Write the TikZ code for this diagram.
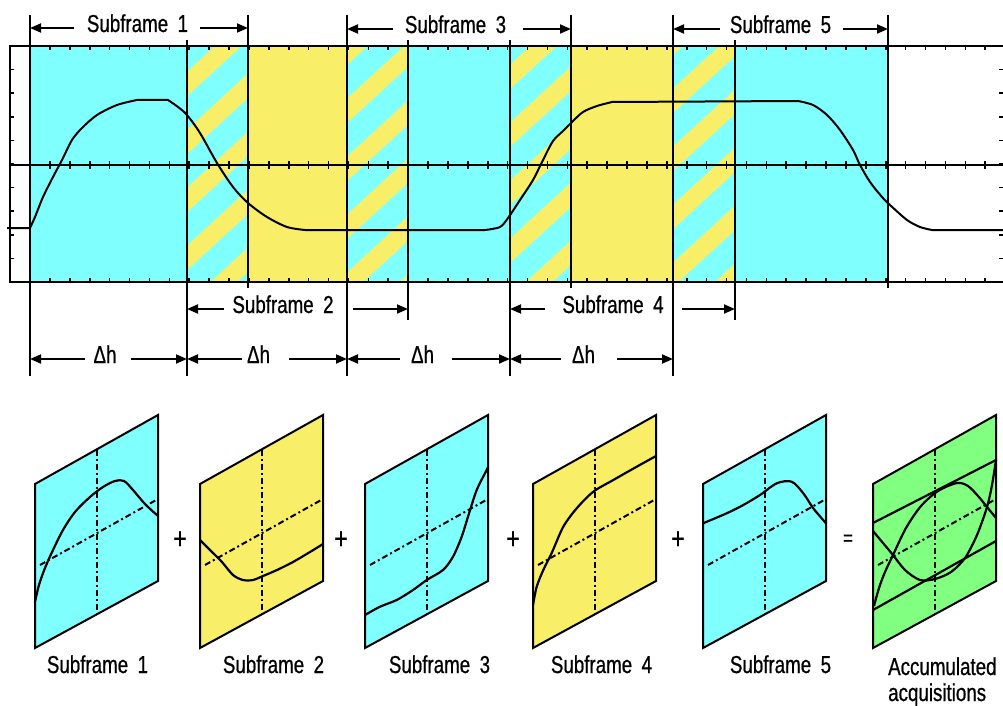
\documentclass[tikz,border=0pt]{standalone}
\usepackage{fontspec}
\setmainfont{Liberation Sans}[FakeStretch=0.765,FakeBold=0.7]
\usetikzlibrary{arrows.meta}
\definecolor{scyan}{RGB}{128,255,255}
\definecolor{syellow}{RGB}{248,238,104}
\definecolor{sgreen}{RGB}{128,255,128}

\newcommand\mydim[8]{%
  \coordinate (#1L) at (#3,#2);
  \coordinate (#1l) at (#4,#2);
  \coordinate (#1r) at (#7,#2);
  \coordinate (#1R) at (#8,#2);
  \node[lbl] (#1t) at (#6,{#2+4}) {#5};
  \draw[dimarrow] (#1l) -- (#1L);
  \draw[dimarrow] (#1r) -- (#1R);
}
\newcommand\hatchbox[2]{%
  \begin{scope}
    \clip (#1,46) rectangle (#2,282);
    \fill[scyan] (#1,46) rectangle (#2,282);
    \foreach \k in {-2,...,14}{
      \draw[hatch] ({#1-20},{256+58*\k-0.92*(#1-20)}) -- ({#2+20},{256+58*\k-0.92*(#2+20)});
    }
  \end{scope}
}
\newcommand\panelshape[2]{%
  \begin{scope}[shift={(#1,0)}]
    \draw[panel, fill=#2] (0,484) -- (123,415) -- (123,581) -- (0,648) -- cycle;
    \draw[dd] (61.5,449.5) -- (61.5,614.5);
    \draw[dd] (5,565) -- (123,499);
  \end{scope}
}
\newcommand\curveA{\draw[pcurve] plot[smooth,tension=0.55] coordinates {(0,602) (4,585) (10,568) (18,550) (28,530) (40,512) (55,497) (68,487) (80,481) (89,481) (98,490) (110,504) (123,516)};}
\newcommand\curveB{\draw[pcurve] plot[smooth,tension=0.5] coordinates {(0,540) (10,550) (21.7,561.7) (33,575) (43,580) (53,580) (63,576) (77,570) (93,562) (110,552) (123,544)};}
\newcommand\curveC{\draw[pcurve] plot[smooth,tension=0.5] coordinates {(0,615) (15,606.7) (31.7,600) (48,590) (61.7,580) (78,570) (88,556.7) (96.7,536.7) (103,516.7) (111.7,490) (121.7,470) (123,467)};}
\newcommand\curveD{\draw[pcurve] plot[smooth,tension=0.5] coordinates {(0,605) (3.7,586.7) (10.3,570) (18.7,553) (30.3,526.7) (43.7,508.3) (60.3,491.7) (80.3,480) (103.7,466.7) (123,456)};}
\newcommand\curveE{\draw[pcurve] plot[smooth,tension=0.5] coordinates {(0,523.3) (23.7,513.3) (40.3,505) (57,495) (73.7,483.3) (88.7,481.7) (100.3,493.3) (110.3,508.3) (123,523.3)};}

\begin{document}
\begin{tikzpicture}[x=1pt,y=-1pt,
  frame/.style={line width=2pt},
  tick/.style={line width=1.6pt},
  vline/.style={line width=2pt},
  wave/.style={line width=2pt, line join=round},
  dimarrow/.style={line width=1.8pt, -{Triangle[length=11pt,width=9pt]}},
  lbl/.style={font=\fontsize{24.5}{28}\selectfont, inner sep=0pt, anchor=base},
  op/.style={font=\fontsize{30}{32}\selectfont, inner sep=0pt, anchor=center},
  panel/.style={line width=2pt},
  dd/.style={line width=2pt, dash pattern=on 6pt off 3pt on 2pt off 3pt},
  pcurve/.style={line width=2.2pt, line join=round},
  hatch/.style={syellow, line width=18pt}
]
\useasboundingbox (0,0) rectangle (1003,706);

% coloured bands
\fill[scyan] (30,46) rectangle (187,282);
\hatchbox{187}{248}
\fill[syellow] (248,46) rectangle (347,282);
\hatchbox{347}{408}
\fill[scyan] (408,46) rectangle (510,282);
\hatchbox{510}{571}
\fill[syellow] (571,46) rectangle (673,282);
\hatchbox{673}{735}
\fill[scyan] (735,46) rectangle (888,282);

% frame and graticule
\draw[frame] (1003,46) -- (10,46) -- (10,282) -- (1003,282);
\draw[frame] (10,165) -- (1003,165);
\foreach \n in {1,...,49}{
  \pgfmathsetmacro\tx{30+19.9*\n}
  \draw[tick] (\tx,46) -- (\tx,50);
  \draw[tick] (\tx,161) -- (\tx,169);
  \draw[tick] (\tx,278) -- (\tx,282);
}
\foreach \k in {1,...,9}{
  \pgfmathsetmacro\ty{46+23.6*\k}
  \draw[tick] (10,\ty) -- (14,\ty);
  \draw[tick] (999,\ty) -- (1003,\ty);
}
\foreach \x/\a/\b in {30/15/376, 187/40/376, 248/15/288, 347/15/376, 408/40/320, 510/40/376, 571/15/288, 673/15/376, 735/40/320, 888/15/288}
  \draw[vline] (\x,\a) -- (\x,\b);

% waveform
\draw[wave] (7,228) -- plot[smooth,tension=0.5] coordinates {(30,228) (35,217) (43,197) (53,177) (62,160) (72,140) (82,128) (97,115) (117,105) (137,100)}
  -- plot[smooth,tension=0.5] coordinates {(168,100) (178,107) (187,115) (200,133) (217,163) (233,187) (248,203) (267,217) (287,227) (305,230)}
  -- plot[smooth,tension=0.5] coordinates {(485,230) (500,227) (508,218) (520,200) (533,180) (543,160) (553,141) (563,131) (571,123) (583,112) (597,106) (612,102)}
  -- plot[smooth,tension=0.5] coordinates {(798,101) (813,105) (827,115) (840,130) (853,150) (860,165) (870,182) (882,197) (890,205) (907,220) (920,227) (932,230)}
  -- (1003,230);

% dimension arrows
\mydim{sa}{28}{30}{74}{Subframe\hspace{9.5pt}1}{137.5}{200}{248}
\mydim{sc}{29}{347}{393}{Subframe\hspace{9.5pt}3}{455.5}{523}{571}
\mydim{se}{29}{673}{720}{Subframe\hspace{9.5pt}5}{780.5}{843}{888}
\mydim{sb}{309}{187}{224}{Subframe\hspace{9.5pt}2}{283}{353}{408}
\mydim{sd}{309}{510}{545}{Subframe\hspace{9.5pt}4}{613}{682}{735}
\mydim{da}{359}{30}{85}{Δh}{105}{131}{187}
\mydim{db}{359}{187}{242}{Δh}{258.5}{289}{347}
\mydim{dc}{359}{347}{400}{Δh}{422.5}{452}{510}
\mydim{dd}{359}{510}{561}{Δh}{583.5}{617}{673}

% panels
\panelshape{35}{scyan}
\begin{scope}[shift={(35,0)}]\curveA\end{scope}
\panelshape{200}{syellow}
\begin{scope}[shift={(200,0)}]\curveB\end{scope}
\panelshape{365}{scyan}
\begin{scope}[shift={(365,0)}]\curveC\end{scope}
\panelshape{533}{syellow}
\begin{scope}[shift={(533,0)}]\curveD\end{scope}
\panelshape{703}{scyan}
\begin{scope}[shift={(703,0)}]\curveE\end{scope}
\panelshape{873}{sgreen}
\begin{scope}[shift={(873,0)}]
  \draw[pcurve] (0,523) -- (123,460);
  \draw[pcurve] (0,610) -- (123,541);
  \draw[pcurve] plot[smooth,tension=0.5] coordinates {(1,606) (6,588) (12,572) (20,555) (33,528) (48,506) (65,491) (84,483) (95,486) (105,496) (114,507) (123,518)};
  \draw[pcurve] plot[smooth,tension=0.5] coordinates {(0,531) (10,543) (20,555) (32,570) (47,580) (62,579) (78,572) (92,558) (104,535) (114,507) (119,485) (123,460)};
\end{scope}

% operators
\node[op] (op1) at (180,540) {+};
\node[op] (op2) at (341,540) {+};
\node[op] (op3) at (513,540) {+};
\node[op] (op4) at (678,540) {+};
\node[op, font=\fontsize{22}{24}\selectfont] (op5) at (848,540) {=};

% panel labels
\node[lbl] (n1) at (97.5,673) {Subframe\hspace{9.5pt}1};
\node[lbl] (n2) at (273.5,673) {Subframe\hspace{9.5pt}2};
\node[lbl] (n3) at (439.5,673) {Subframe\hspace{9.5pt}3};
\node[lbl] (n4) at (601.5,673) {Subframe\hspace{9.5pt}4};
\node[lbl] (n5) at (780.5,673) {Subframe\hspace{9.5pt}5};
\node[lbl, anchor=base west] (n6) at (888,675) {Accumulated};
\node[lbl, anchor=base west] (n7) at (888,701) {acquisitions};
\end{tikzpicture}
\end{document}
